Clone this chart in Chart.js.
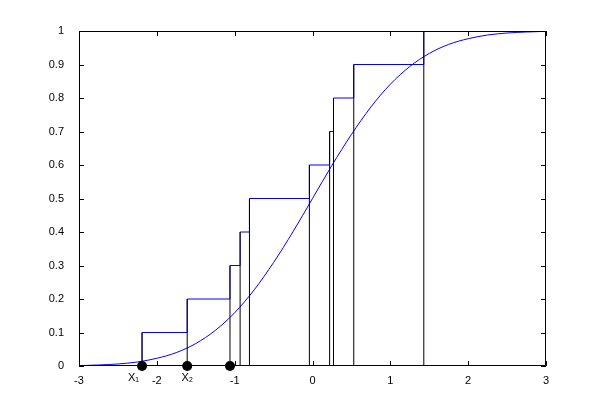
<!DOCTYPE html>
<html>
<head>
  <meta charset="UTF-8">
  <title>Empirical CDF</title>
  <script src="https://cdn.jsdelivr.net/npm/chart.js"></script>
  <style>
    body { margin: 0; background: #fff; }
  </style>
</head>
<body>
  <canvas id="grafico" width="604" height="411"></canvas>

  <script>
    // sample points (x) and the step height reached at each
    const campioni = [-2.19, -1.61, -1.06, -0.93, -0.81, -0.04, 0.22, 0.27, 0.53, 1.43];
    const altezze  = [0.1, 0.2, 0.3, 0.4, 0.5, 0.6, 0.7, 0.8, 0.9, 1.0];

    // normal cdf curve
    const curvaX = [-3, -2.75, -2.5, -2.25, -2, -1.75, -1.5, -1.25, -1, -0.75, -0.5, -0.25, 0,
                    0.25, 0.5, 0.75, 1, 1.25, 1.5, 1.75, 2, 2.25, 2.5, 2.75, 3];
    const curvaY = [0.001, 0.003, 0.006, 0.012, 0.023, 0.040, 0.067, 0.106, 0.159, 0.227, 0.309, 0.401, 0.5,
                    0.599, 0.691, 0.773, 0.841, 0.894, 0.933, 0.960, 0.977, 0.988, 0.994, 0.997, 0.999];

    // black dots on the axis
    const puntiX = [-2.19, -1.61, -1.06];

    // extra labels under the axis
    const etichetteX = ['X\u2081', 'X\u2082'];
    const etichettePos = [-2.3, -1.61];

    const tickX = [-3, -2, -1, 0, 1, 2, 3];
    const tickY = [0, 0.1, 0.2, 0.3, 0.4, 0.5, 0.6, 0.7, 0.8, 0.9, 1];
    const tickYLabel = ['0', '0.1', '0.2', '0.3', '0.4', '0.5', '0.6', '0.7', '0.8', '0.9', '1'];
    const tickXLabel = ['-3', '-2', '-1', '0', '1', '2', '3'];

    const font = { family: '"Liberation Sans", Arial, sans-serif', size: 11 };

    // staircase: horizontal at the old level, then up at each sample
    const scala = [{ x: -3, y: 0 }];
    let livello = 0;
    campioni.forEach((c, i) => {
      scala.push({ x: c, y: livello }, { x: c, y: altezze[i] });
      livello = altezze[i];
    });
    scala.push({ x: 3, y: livello });

    const verticali = [];
    campioni.forEach((c, i) => {
      verticali.push({ x: c, y: 0 }, { x: c, y: altezze[i] }, { x: c, y: null });
    });

    const cornice = {
      id: 'cornice',
      afterDraw(chart) {
        const ctx = chart.ctx;
        const a = chart.chartArea;
        const sx = chart.scales.x, sy = chart.scales.y;
        ctx.save();
        ctx.strokeStyle = '#000';
        ctx.lineWidth = 1;
        ctx.beginPath();
        ctx.rect(a.left + 0.5, a.top + 0.5, a.right - a.left - 1, a.bottom - a.top - 1);
        tickX.forEach(v => {
          const p = Math.round(sx.getPixelForValue(v)) + 0.5;
          ctx.moveTo(p, a.bottom); ctx.lineTo(p, a.bottom - 5);
          ctx.moveTo(p, a.top); ctx.lineTo(p, a.top + 5);
        });
        tickY.forEach(v => {
          const p = Math.round(sy.getPixelForValue(v)) + 0.5;
          ctx.moveTo(a.left, p); ctx.lineTo(a.left + 5, p);
          ctx.moveTo(a.right, p); ctx.lineTo(a.right - 5, p);
        });
        ctx.stroke();
        ctx.fillStyle = '#000';
        ctx.font = font.size + 'px ' + font.family;
        ctx.textAlign = 'center';
        ctx.textBaseline = 'middle';
        etichetteX.forEach((t, i) => {
          ctx.fillText(t, sx.getPixelForValue(etichettePos[i]), a.bottom + 12);
        });
        // dots on top of the frame
        puntiX.forEach(v => {
          ctx.beginPath();
          ctx.arc(sx.getPixelForValue(v), sy.getPixelForValue(0), 5, 0, Math.PI * 2);
          ctx.fill();
        });
        ctx.restore();
      }
    };

    new Chart(document.getElementById('grafico'), {
      type: 'line',
      data: {
        datasets: [
          {
            label: 'verticali',
            data: verticali,
            borderColor: '#000',
            borderWidth: 1,
            pointRadius: 0,
            spanGaps: false,
            order: 1
          },
          {
            label: 'ecdf',
            data: scala,
            borderColor: '#0000ff',
            borderWidth: 1,
            pointRadius: 0,
            order: 2
          },
          {
            label: 'normale',
            data: curvaX.map((x, i) => ({ x: x, y: curvaY[i] })),
            borderColor: '#0000ff',
            borderWidth: 1,
            pointRadius: 0,
            cubicInterpolationMode: 'monotone',
            order: 3
          }
        ]
      },
      options: {
        responsive: false,
        animation: false,
        layout: { padding: { top: 31, right: 58, left: 0, bottom: 0 } },
        plugins: { legend: { display: false }, tooltip: { enabled: false } },
        scales: {
          x: {
            type: 'linear',
            min: -3,
            max: 3,
            afterFit: s => { s.height = 45; },
            afterBuildTicks: s => { s.ticks = tickX.map(v => ({ value: v })); },
            grid: { display: false },
            border: { display: false },
            ticks: {
              color: '#000',
              font: font,
              padding: 0,
              maxRotation: 0,
              callback: (v) => tickXLabel[tickX.indexOf(v)]
            }
          },
          y: {
            min: 0,
            max: 1,
            afterFit: s => { s.width = 79; },
            afterBuildTicks: s => { s.ticks = tickY.map(v => ({ value: v })); },
            grid: { display: false },
            border: { display: false },
            ticks: {
              color: '#000',
              font: font,
              padding: 7,
              callback: (v) => tickYLabel[tickY.indexOf(v)]
            }
          }
        }
      },
      plugins: [cornice]
    });
  </script>
</body>
</html>
